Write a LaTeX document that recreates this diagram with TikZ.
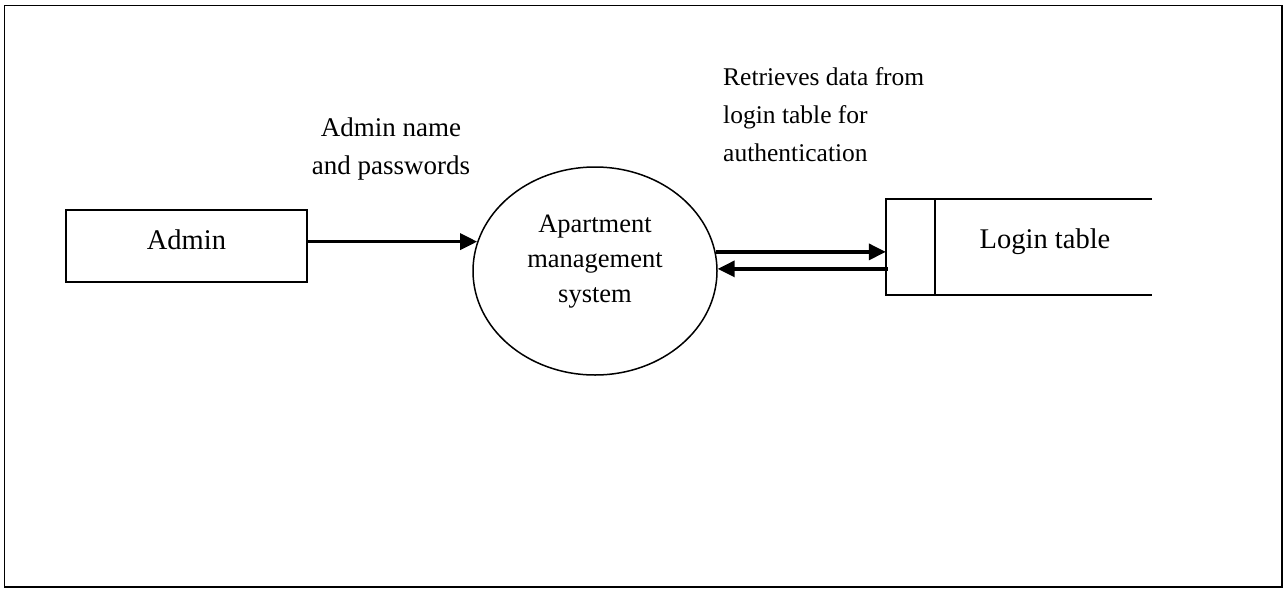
\documentclass[tikz,border=0pt]{standalone}
\usepackage{fontspec}
\setmainfont{Liberation Serif}
\usetikzlibrary{shapes.geometric,arrows.meta}

\tikzset{
  every picture/.style={x=1pt,y=-1pt},
  frame/.style={draw,line width=1.6pt},
  entity/.style={draw,line width=1.8pt,minimum width=241pt,minimum height=72pt,inner sep=0pt},
  process/.style={draw,ellipse,line width=1.5pt,minimum width=244pt,minimum height=208pt,inner sep=0pt},
  store/.style={minimum width=266pt,minimum height=96pt,inner sep=0pt},
  storeline/.style={line width=1.8pt},
  bigtext/.style={inner sep=0pt,font=\fontsize{28.5}{38}\selectfont},
  proctext/.style={inner sep=0pt,align=center,font=\fontsize{26.5}{35}\selectfont},
  flowlabel/.style={inner sep=0pt,font=\fontsize{27}{38}\selectfont},
  flow/.style={line width=3.4pt,-{Triangle[length=17pt,width=16pt]}}
}

\begin{document}
\begin{tikzpicture}
  \useasboundingbox (0,0) rectangle (1287,589);
  \draw[frame] (4.5,5.5) rectangle (1282,587);

  % external entity
  \node[entity] (admin) at (186.5,246) {};
  \node[bigtext] (admintext) at (186.5,240) {Admin};

  % process
  \node[process] (sys) at (595,271) {};
  \node[proctext] (systext) at (595,262) {Apartment\\management\\system};

  % data store (open on the right)
  \node[store] (login) at (1019,247) {};
  \coordinate (split) at (935,199);
  \draw[storeline] (login.north east) -- (login.north west) -- (login.south west) -- (login.south east);
  \draw[line width=1.5pt] (split) -- (split |- login.south);
  \node[bigtext] (logintext) at (1045,242) {Login table};

  % data flows
  \draw[flow] (admin.east |- sys.166.1) -- (sys.166.1);
  \draw[flow] (sys.9) -- (login.west |- sys.9);
  \draw[flow] ([xshift=2pt]login.west |- sys.1.9) -- (sys.1.9);

  % flow labels
  \node[flowlabel,align=center] (lblin) at (391,149) {Admin name\\and passwords};
  \node[flowlabel,align=left,anchor=west,font=\fontsize{25.5}{38}\selectfont] (lblout) at (723,115) {Retrieves data from\\login table for\\authentication};
\end{tikzpicture}
\end{document}
